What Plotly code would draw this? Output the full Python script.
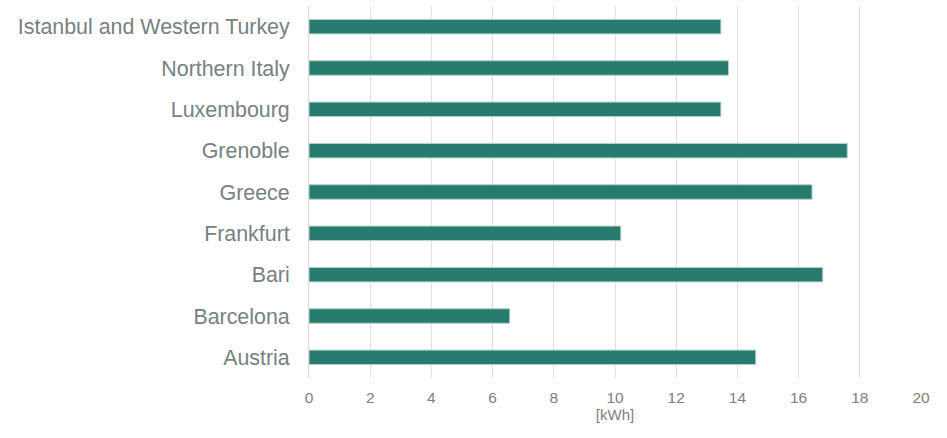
import plotly.graph_objects as go

regions = ["Austria", "Barcelona", "Bari", "Frankfurt", "Greece", "Grenoble",
           "Luxembourg", "Northern Italy", "Istanbul and Western Turkey"]
energy_kwh = [14.6, 6.56, 16.79, 10.19, 16.44, 17.59, 13.46, 13.71, 13.46]
x_ticks = list(range(0, 21, 2))

fig = go.Figure(go.Bar(
    x=energy_kwh, y=regions, orientation="h",
    marker=dict(color="#277a6e", line=dict(color="#b7d0cc", width=1)),
))
fig.update_layout(
    width=947, height=438,
    margin=dict(l=309, r=26, t=6, b=60, autoexpand=False),
    plot_bgcolor="white", paper_bgcolor="white",
    bargap=0.65, showlegend=False,
    font=dict(family="Liberation Sans, Arial, sans-serif", color="#7a8585"),
)
fig.update_xaxes(
    range=[0, 20], tickvals=x_ticks, showgrid=True, gridcolor="#e0e0e0", gridwidth=1,
    zeroline=False, showline=False, tickfont=dict(size=15.5, color="#808080"),
    title=dict(text="[kWh]", font=dict(size=15, color="#808080"), standoff=3),
    ticks="", ticklen=0, automargin=True, ticklabelstandoff=8,
)
fig.update_yaxes(
    showgrid=False, showline=True, linecolor="#d9d9d9", linewidth=1,
    tickfont=dict(size=21.4, color="#768282"), ticks="", ticklabelstandoff=14,
    automargin=False,
)
fig.write_html("out.html", post_script="document.body.style.margin='0';",
               config={"displayModeBar": False})
